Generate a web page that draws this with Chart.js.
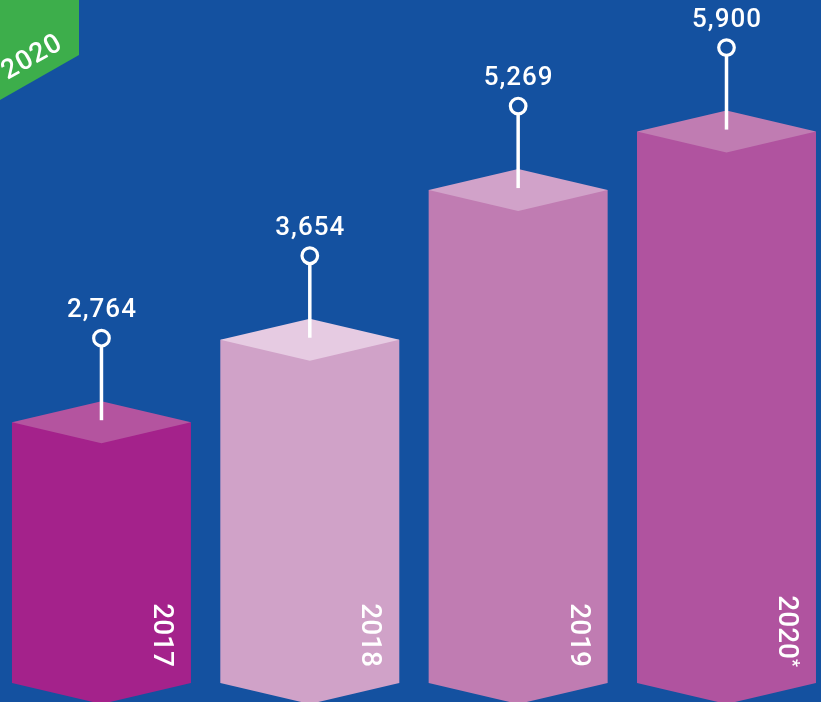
<!DOCTYPE html>
<html>
<head>
<meta charset="utf-8">
<script src="https://cdn.jsdelivr.net/npm/chart.js@4"></script>
<style>
  html, body { margin: 0; padding: 0; background: #1451a0; overflow: hidden; }
  #wrap { width: 821px; height: 702px; position: relative; }
  canvas { display: block; }
</style>
</head>
<body>
<div id="wrap"><canvas id="c" width="821" height="702"></canvas></div>
<script>
const categories = ['2017', '2018', '2019', '2020*'];
const values = [2764, 3654, 5269, 5900];
const valueLabels = ['2,764', '3,654', '5,269', '5,900'];
const frontColors = ['#a4228b', '#d0a2c8', '#c07cb2', '#b0539f'];
const topColors = ['#b4549f', '#e6cbe2', '#d1a2c9', '#c07cb2'];
const badgeText = '2020';

const BG = '#1451a0';
const GREEN = '#3dae4b';

const shapes3d = {
  id: 'shapes3d',
  beforeDatasetsDraw(chart) {
    const ctx = chart.ctx;
    ctx.save();
    ctx.fillStyle = GREEN;
    ctx.beginPath();
    ctx.moveTo(0, 0); ctx.lineTo(79, 0); ctx.lineTo(79, 55); ctx.lineTo(0, 100);
    ctx.closePath(); ctx.fill();
    ctx.translate(32, 57);
    ctx.rotate(-Math.atan2(45, 79));
    ctx.fillStyle = '#ffffff';
    ctx.font = '500 27px Roboto';
    ctx.letterSpacing = '1px';
    ctx.textAlign = 'center';
    ctx.textBaseline = 'middle';
    ctx.fillText(badgeText, 0, 1);
    ctx.restore();
  },
  afterDatasetsDraw(chart) {
    const ctx = chart.ctx;
    const meta = chart.getDatasetMeta(0);
    const base = chart.chartArea.bottom;
    meta.data.forEach((bar, i) => {
      const x = bar.x;
      const top = bar.y;
      const hw = 89.5;
      const d = 21;
      ctx.save();
      ctx.fillStyle = frontColors[i];
      ctx.beginPath();
      ctx.moveTo(x - hw, top);
      ctx.lineTo(x + hw, top);
      ctx.lineTo(x + hw, base);
      ctx.lineTo(x, base + d);
      ctx.lineTo(x - hw, base);
      ctx.closePath();
      ctx.fill();
      ctx.fillStyle = topColors[i];
      ctx.beginPath();
      ctx.moveTo(x - hw, top);
      ctx.lineTo(x, top - d);
      ctx.lineTo(x + hw, top);
      ctx.lineTo(x, top + d);
      ctx.closePath();
      ctx.fill();
      const cy = top - 84;
      const r = 7.8;
      ctx.strokeStyle = '#ffffff';
      ctx.lineWidth = 3.5;
      ctx.beginPath();
      ctx.moveTo(x, cy + r);
      ctx.lineTo(x, top - 2);
      ctx.stroke();
      ctx.lineWidth = 3.2;
      ctx.fillStyle = BG;
      ctx.beginPath();
      ctx.arc(x, cy, r, 0, Math.PI * 2);
      ctx.fill();
      ctx.stroke();
      ctx.fillStyle = '#ffffff';
      ctx.font = '500 26px Roboto';
      ctx.letterSpacing = '1px';
      ctx.textAlign = 'center';
      ctx.textBaseline = 'alphabetic';
      ctx.fillText(valueLabels[i], x + 0.5, top - 105);
      ctx.letterSpacing = '0px';
      let label = categories[i];
      let star = '';
      if (label.endsWith('*')) { star = '*'; label = label.slice(0, -1); }
      ctx.translate(x + hw - 37, 667);
      ctx.rotate(Math.PI / 2);
      ctx.font = '500 28px Roboto';
      ctx.textAlign = 'right';
      let offset = 0;
      if (star) {
        ctx.font = '500 18px Roboto';
        const sw = ctx.measureText(star).width;
        ctx.fillText(star, 0, -8);
        offset = sw;
        ctx.font = '500 28px Roboto';
      }
      ctx.fillText(label, -offset, 0);
      ctx.restore();
    });
  }
};

new Chart(document.getElementById('c'), {
  type: 'bar',
  data: {
    labels: categories,
    datasets: [{
      data: values.map((v, i) => ({ x: i, y: v })),
      backgroundColor: 'rgba(0,0,0,0)',
      barThickness: 179
    }]
  },
  options: {
    responsive: false,
    devicePixelRatio: 1,
    animation: false,
    layout: { padding: { left: 0, right: 0, top: 0, bottom: 19 } },
    plugins: { legend: { display: false }, tooltip: { enabled: false } },
    scales: {
      x: { type: 'linear', min: -0.487, max: 3.4536, offset: false, bounds: 'ticks', display: false },
      y: { min: -50, max: 7320, display: false }
    }
  },
  plugins: [shapes3d]
});
</script>
</body>
</html>
